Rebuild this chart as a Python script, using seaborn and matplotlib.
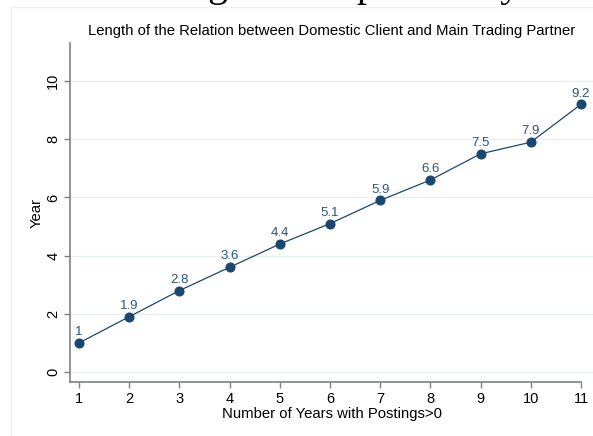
import numpy as np
import pandas as pd
import seaborn as sns
import matplotlib.pyplot as plt
from matplotlib.patches import Rectangle

# data
years_with_postings = [1, 2, 3, 4, 5, 6, 7, 8, 9, 10, 11]
relation_length = [1.0, 1.9, 2.8, 3.6, 4.4, 5.1, 5.9, 6.6, 7.5, 7.9, 9.2]
y_ticks = [0, 2, 4, 6, 8, 10]

df = pd.DataFrame({"n_years": years_with_postings, "length": relation_length})

navy = "#1a476f"
plt.rcParams["font.family"] = ["Liberation Sans", "DejaVu Sans"]

fig = plt.figure(figsize=(5.93, 4.36), dpi=100)
ax = fig.add_axes([70 / 593, 54 / 436, 523 / 593, 339 / 436])

# grid first so the line sits on top
ax.set_yticks(y_ticks)
ax.yaxis.grid(True, color="#e6eef0", linewidth=0.9)
ax.set_axisbelow(True)

sns.lineplot(data=df, x="n_years", y="length", ax=ax, color=navy,
             linewidth=0.9, marker="o", markersize=6.5,
             markeredgecolor=navy, markerfacecolor=navy)

for xv, yv in zip(df["n_years"], df["length"]):
    ax.annotate(f"{yv:g}", (xv, yv), xytext=(0, 3.5), textcoords="offset points",
                ha="center", va="bottom", fontsize=9.5, color="#2b557e")

ax.set_xlim(0.82, 11.24)
ax.set_ylim(-0.344, 11.31)
ax.set_xticks(years_with_postings)

for side in ["top", "right"]:
    ax.spines[side].set_visible(False)
for side in ["left", "bottom"]:
    ax.spines[side].set_color("#808080")
    ax.spines[side].set_linewidth(1.2)
ax.spines["bottom"].set_bounds(0.82, 11)

ax.tick_params(axis="both", length=4, width=1, color="#808080",
               labelsize=10.5, labelcolor="black", pad=3)
ax.tick_params(axis="y", labelrotation=90)
for lab in ax.get_yticklabels():
    lab.set_va("center")

ax.set_title("Length of the Relation between Domestic Client and Main Trading Partner",
             fontsize=10.7, pad=6)
ax.set_xlabel("Number of Years with Postings>0", fontsize=10.7, labelpad=1)
ax.set_ylabel("Year", fontsize=10.7, labelpad=2)

# faint outer graph-region frame and the cut-off page heading above it
fig.patches.append(Rectangle((11 / 593, -0.1), 1.2, 1.1 - 7.5 / 436,
                             transform=fig.transFigure, fill=False,
                             edgecolor="#efefef", linewidth=1))
fig.text(146 / 593, 1 + 4.5 / 436, "Length of Import Entry",
         family="Liberation Serif", fontsize=28.8, ha="left", va="baseline")

fig.savefig("out.png", dpi=100)
